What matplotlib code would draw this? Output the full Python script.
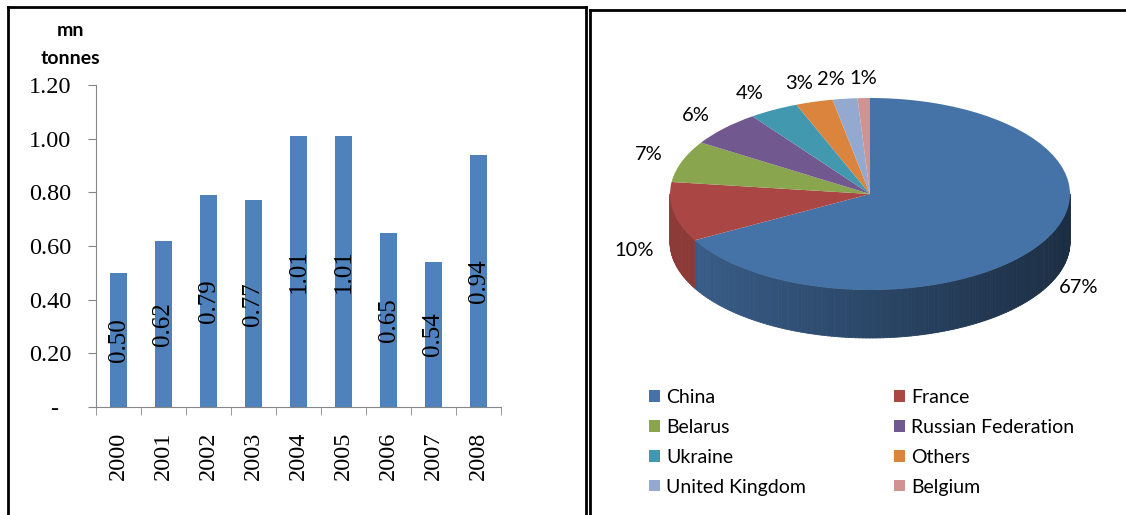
import numpy as np
import matplotlib
matplotlib.use('Agg')
import matplotlib.pyplot as plt
from matplotlib.lines import Line2D
from matplotlib.collections import PolyCollection
from matplotlib.colors import to_rgb

# ---- data ----
years  = ['2000', '2001', '2002', '2003', '2004', '2005', '2006', '2007', '2008']
output = [0.50, 0.62, 0.79, 0.77, 1.01, 1.01, 0.65, 0.54, 0.94]
yticks = [0.0, 0.2, 0.4, 0.6, 0.8, 1.0, 1.2]
ytick_labels = ['-  ', '0.20', '0.40', '0.60', '0.80', '1.00', '1.20']

countries = ['China', 'France', 'Belarus', 'Russian Federation', 'Ukraine',
             'Others', 'United Kingdom', 'Belgium']
shares    = [67, 10, 7, 6, 4, 3, 2, 1]
colors    = ['#4572A7', '#AA4643', '#89A54E', '#71588F', '#4198AF',
             '#DB843D', '#93A9CF', '#D19392']

W, H = 1126, 515
SERIF = 'Liberation Serif'
SANS  = 'Lato'

fig = plt.figure(figsize=(W / 100, H / 100), dpi=100)

def px_axes(x0, y0, x1, y1):
    # pixel box (top-left origin) -> figure axes
    return fig.add_axes([x0 / W, 1 - y1 / H, (x1 - x0) / W, (y1 - y0) / H])

# ---- bar chart ----
ax = px_axes(96, 85, 501, 407)
x = np.arange(len(years))
ax.bar(x, output, width=0.37, color='#4F81BD', zorder=2)
for xi, v in zip(x, output):
    ax.text(xi, v / 2, f'{v:.2f}', rotation=90, ha='center', va='center',
            family=SERIF, fontsize=18, color='black')

ax.set_xlim(-0.5, len(years) - 0.5)
ax.set_ylim(0, 1.2)
ax.set_yticks(yticks)
ax.set_yticklabels(ytick_labels, family=SERIF, fontsize=17.5)
ax.set_xticks(x)
ax.set_xticklabels(years, rotation=90, family=SERIF, fontsize=17.5)
ax.set_xticks(np.arange(-0.5, len(years)), minor=True)
ax.tick_params(axis='x', which='major', length=0, pad=18)
ax.tick_params(axis='x', which='minor', length=6, color='#868686', direction='out')
ax.tick_params(axis='y', length=6, color='#868686', direction='out', pad=12)
for s in ['top', 'right']:
    ax.spines[s].set_visible(False)
for s in ['left', 'bottom']:
    ax.spines[s].set_color('#868686')

fig.text(70 / W, 1 - 30 / H, 'mn', ha='center', va='center',
         family=SANS, fontweight='bold', fontsize=14)
fig.text(70 / W, 1 - 58 / H, 'tonnes', ha='center', va='center',
         family=SANS, fontweight='bold', fontsize=14)

# ---- 3D-ish pie ----
cx, cy, rx, ry = 870, 194, 200, 96
px0, py0, px1, py1 = 600, 60, 1126, 360
pax = px_axes(px0, py0, px1, py1)
depth = 48 / ry

wedges, _ = pax.pie(shares, colors=colors, startangle=90, counterclock=False,
                    radius=1, frame=True, wedgeprops=dict(linewidth=0, zorder=3))

# side wall (front half only), shaded left->right
polys, fcs = [], []
for w, c in zip(wedges, colors):
    a, b = w.theta1, w.theta2
    base = np.array(to_rgb(c))
    for k in (-1, 0, 1):
        lo, hi = max(a, -180 + 360 * k), min(b, 360 * k)
        if hi <= lo:
            continue
        t = np.radians(np.linspace(lo, hi, max(int(hi - lo), 2) + 1))
        for t0, t1 in zip(t[:-1], t[1:]):
            polys.append([(np.cos(t0), np.sin(t0)), (np.cos(t1), np.sin(t1)),
                          (np.cos(t1), np.sin(t1) - depth),
                          (np.cos(t0), np.sin(t0) - depth)])
            f = 0.62 - 0.22 * np.cos((t0 + t1) / 2)
            fcs.append(tuple(base * f))
pax.add_collection(PolyCollection(polys, facecolors=fcs, edgecolors=fcs,
                                  linewidths=0.6, zorder=2))

# percentage labels, outside the rim; spread the crowded ones near the top
pos = []
for w in wedges:
    mid = np.radians((w.theta1 + w.theta2) / 2)
    c, s = np.cos(mid), np.sin(mid)
    if abs(c) > 0.3:
        ha = 'left' if c > 0 else 'right'
        lx = 1.1 * c
    else:
        ha = 'center'
        lx = 1.15 * c
    ly = 1.2 * s
    if ly < 0:
        ly -= depth * 0.72
    pos.append([lx, ly, ha])
gap = 32 / rx
for i in range(len(pos) - 2, 0, -1):
    if pos[i][2] == 'center' and pos[i + 1][0] - pos[i][0] < gap:
        pos[i][0] = pos[i + 1][0] - gap
for (lx, ly, ha), v in zip(pos, shares):
    pax.text(lx, ly, f'{v}%', ha=ha, va='center', family=SANS,
             fontsize=14.5, clip_on=False)

pax.set_aspect('auto')
pax.set_xlim((px0 - cx) / rx, (px1 - cx) / rx)
pax.set_ylim((cy - py1) / ry, (cy - py0) / ry)
pax.axis('off')

order = [0, 2, 4, 6, 1, 3, 5, 7]
fig.legend([wedges[i] for i in order], [countries[i] for i in order],
           ncol=2, loc='upper left', bbox_to_anchor=(649 / W, 1 - 389 / H),
           bbox_transform=fig.transFigure, frameon=False, prop=dict(family=SANS, size=14),
           handlelength=0.55, handleheight=0.55, handletextpad=0.35,
           labelspacing=0.66, columnspacing=4.5, borderpad=0, borderaxespad=0)

# ---- panel frames ----
for xs, ys in [([8, 8], [515, 7]), ([8, 586], [7, 7]), ([586, 586], [7, 515]),
               ([590, 590], [515, 10]), ([590, 1126], [10, 10])]:
    fig.add_artist(Line2D([v / W for v in xs], [1 - v / H for v in ys],
                          color='black', linewidth=2, transform=fig.transFigure))

fig.savefig('out.png', dpi=100, facecolor='white')
